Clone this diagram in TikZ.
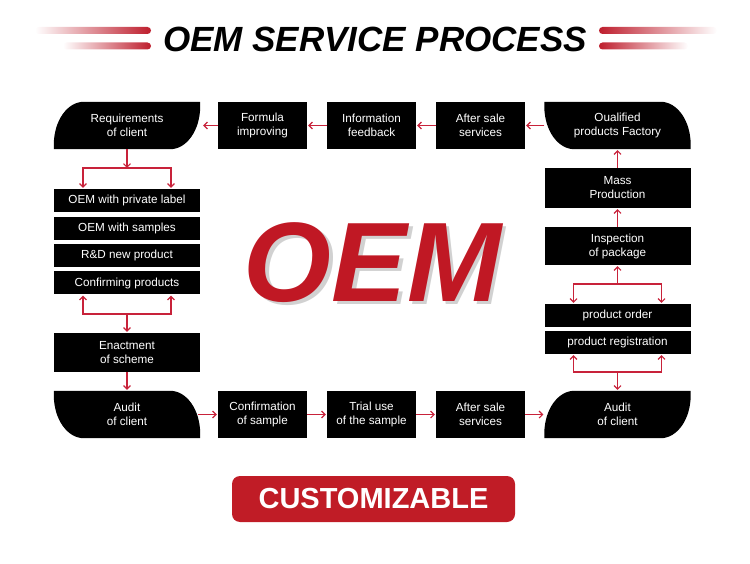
\documentclass[tikz,border=0pt]{standalone}
\usepackage{fontspec}
\setmainfont{Liberation Sans}
\usetikzlibrary{arrows.meta,calc,backgrounds}
\definecolor{flowred}{RGB}{200,34,58}
\definecolor{oemred}{RGB}{192,24,36}
\definecolor{btnred}{RGB}{192,28,38}
\definecolor{barred}{RGB}{190,30,45}
\newcommand\boxfont{\fontsize{11.7}{14}\selectfont}
% leaf with top-left and bottom-right corners rounded
\newcommand\leafAfill[1]{%
  \fill[black] (#1.south west) -- ($(#1.north west)+(0,43)$)
    .. controls ($(#1.north west)+(0,19)$) and ($(#1.north west)+(13.5,0)$)
    .. ($(#1.north west)+(30,0)$) -- (#1.north east) -- ($(#1.south east)+(0,-43)$)
    .. controls ($(#1.south east)+(0,-19)$) and ($(#1.south east)+(-13.5,0)$)
    .. ($(#1.south east)+(-30,0)$) -- cycle;}
% leaf with top-right and bottom-left corners rounded
\newcommand\leafBfill[1]{%
  \fill[black] (#1.north west) -- ($(#1.north east)+(-30,0)$)
    .. controls ($(#1.north east)+(-13.5,0)$) and ($(#1.north east)+(0,19)$)
    .. ($(#1.north east)+(0,43)$) -- (#1.south east) -- ($(#1.south west)+(30,0)$)
    .. controls ($(#1.south west)+(13.5,0)$) and ($(#1.south west)+(0,-19)$)
    .. ($(#1.south west)+(0,-43)$) -- cycle;}
\begin{document}
\begin{tikzpicture}[x=1pt,y=-1pt,
  box/.style={fill=black, text=white, font=\boxfont, align=center, inner sep=0pt,
    minimum width=89pt, minimum height=47pt},
  wbox/.style={box, minimum width=146pt},
  leaf/.style={text=white, font=\boxfont, align=center, inner sep=0pt,
    minimum width=146pt, minimum height=47pt},
  arr/.style={draw=flowred, line width=1.1pt, -{Straight Barb[length=3.5pt,width=7pt]}, shorten >=1pt}
]
\useasboundingbox (0,0) rectangle (750,564);

% title bars
\shade[left color=white, right color=barred, rounded corners=3.5pt] (35,27) rectangle (151,34);
\shade[left color=white, right color=barred, rounded corners=3.5pt] (63,42.5) rectangle (151,49.5);
\shade[left color=barred, right color=white, rounded corners=3.5pt] (599,27) rectangle (717,34);
\shade[left color=barred, right color=white, rounded corners=3.5pt] (599,42.5) rectangle (688,49.5);
\node[font=\fontsize{35}{40}\selectfont\bfseries\itshape] (title) at (375,39.5) {OEM SERVICE PROCESS};

% big OEM with soft shadow
\node[font=\fontsize{113}{120}\selectfont\bfseries\itshape, text=black!18] (oemshadow) at (376,266) {OEM};
\node[font=\fontsize{113}{120}\selectfont\bfseries\itshape, text=oemred] (oem) at (372.5,262.5) {OEM};

% top row
\node[leaf] (req) at (127,125.5) {Requirements\\of client};
\node[box] (formula) at (262.5,125.5) {Formula\\improving};
\node[box] (info) at (371.5,125.5) {Information\\feedback};
\node[box] (after1) at (480.5,125.5) {After sale\\services};
\node[leaf] (qual) at (617.5,125.5) {Oualified\\products Factory};

% left column
\node[wbox, minimum height=23pt] (opt1) at (127,200.5) {OEM with private label};
\node[wbox, minimum height=23pt] (opt2) at (127,228.5) {OEM with samples};
\node[wbox, minimum height=23pt] (opt3) at (127,255.5) {R\&D new product};
\node[wbox, minimum height=23pt] (opt4) at (127,283) {Confirming products};
\node[wbox, minimum height=39pt] (enact) at (127,352.5) {Enactment\\of scheme};

% right column
\node[wbox, minimum height=40pt] (mass) at (617.5,188) {Mass\\Production};
\node[wbox, minimum height=38pt] (insp) at (617.5,246) {Inspection\\of package};
\node[wbox, minimum height=23pt] (order) at (617.5,315.5) {product order};
\node[wbox, minimum height=23pt] (reg) at (617.5,342.5) {product registration};

% bottom row
\node[leaf] (auditL) at (127,414.5) {Audit\\of client};
\node[box] (conf) at (262.5,414.5) {Confirmation\\of sample};
\node[box] (trial) at (371.5,414.5) {Trial use\\of the sample};
\node[box] (after2) at (480.5,414.5) {After sale\\services};
\node[leaf] (auditR) at (617.5,414.5) {Audit\\of client};

% leaf shapes behind their texts
\begin{scope}[on background layer]
  \leafAfill{req}
  \leafBfill{qual}
  \leafBfill{auditL}
  \leafAfill{auditR}
\end{scope}

% button
\node[fill=btnred, rounded corners=8pt, minimum width=283pt, minimum height=46pt, inner sep=0pt,
  text=white, font=\fontsize{29}{32}\selectfont\bfseries] (cust) at (373.5,499) {CUSTOMIZABLE};

% junction coordinates
\coordinate (jl1) at (127,168);
\coordinate (jl2) at (127,314);
\coordinate (jr1) at (617.5,284);
\coordinate (jr2) at (617.5,372);

% top row connectors
\draw[arr] (formula.west) -- ([xshift=2pt]req.east);
\draw[arr] (info.west) -- (formula.east);
\draw[arr] (after1.west) -- (info.east);
\draw[arr] (qual.west) -- (after1.east);

% left column connectors
\draw[arr, shorten >=0pt] (req.south) -- (jl1);
\draw[arr] (jl1) -| ([xshift=-44pt]opt1.north);
\draw[arr] (jl1) -| ([xshift=44pt]opt1.north);
\draw[arr] (jl2) -| ([xshift=-44pt]opt4.south);
\draw[arr] (jl2) -| ([xshift=44pt]opt4.south);
\draw[arr] (jl2) -- (enact.north);
\draw[arr] (enact.south) -- (auditL.north);

% bottom row connectors
\draw[arr] ([xshift=-2pt]auditL.east) -- (conf.west);
\draw[arr] (conf.east) -- (trial.west);
\draw[arr] (trial.east) -- (after2.west);
\draw[arr] (after2.east) -- (auditR.west);

% right column connectors
\draw[arr] (jr2) -- (auditR.north);
\draw[arr] (jr2) -| ([xshift=-44pt]reg.south);
\draw[arr] (jr2) -| ([xshift=44pt]reg.south);
\draw[arr] (jr1) -| ([xshift=-44pt]order.north);
\draw[arr] (jr1) -| ([xshift=44pt]order.north);
\draw[arr] (jr1) -- (insp.south);
\draw[arr] (insp.north) -- (mass.south);
\draw[arr] (mass.north) -- (qual.south);
\end{tikzpicture}
\end{document}
